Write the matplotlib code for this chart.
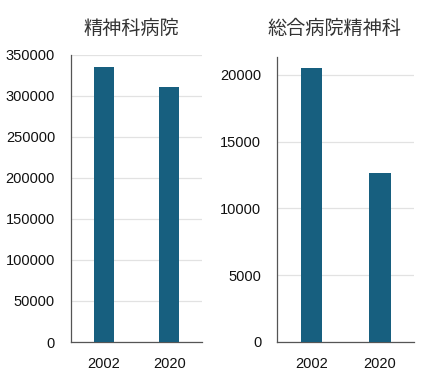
import matplotlib
matplotlib.use("Agg")
import matplotlib.pyplot as plt

years = ["2002", "2020"]
psych_hospital = [335000, 311000]
general_psych = [20550, 12670]
titles = ["精神科病院", "総合病院精神科"]

BAR = "#175f7f"
GRID = "#e2e2e2"
SPINE = "#555555"

plt.rcParams["font.family"] = ["Liberation Sans", "Noto Sans CJK JP", "DejaVu Sans"]

fig = plt.figure(figsize=(4.27, 3.80), dpi=100)
ax1 = fig.add_axes([0.1663, 0.100, 0.3068, 0.7553])
ax2 = fig.add_axes([0.6494, 0.1008, 0.3201, 0.7500])

panels = [
    (ax1, psych_hospital, (0, 350000), range(0, 350001, 50000), 0.30),
    (ax2, general_psych, (0, 21370), range(0, 20001, 5000), 0.32),
]
for ax, values, ylim, yticks, width in panels:
    ax.bar(range(len(years)), values, width=width, color=BAR, zorder=3)
    ax.set_xlim(-0.5, len(years) - 0.5)
    ax.set_ylim(*ylim)
    ax.set_yticks(list(yticks))
    ax.set_xticks(range(len(years)))
    ax.set_xticklabels(years)
    ax.yaxis.grid(True, color=GRID, linewidth=0.9, zorder=0)
    ax.set_axisbelow(True)
    for side in ("top", "right"):
        ax.spines[side].set_visible(False)
    for side in ("left", "bottom"):
        ax.spines[side].set_color(SPINE)
        ax.spines[side].set_linewidth(0.9)
    ax.tick_params(axis="both", length=0, labelsize=10.5, colors="#111111")
    ax.tick_params(axis="y", pad=11.5)
    ax.tick_params(axis="x", pad=11)

fig.text(0.307, 0.926, titles[0], ha="center", va="center", fontsize=13.8,
         color="#333333", family=["Noto Sans CJK JP", "DejaVu Sans"])
fig.text(0.782, 0.926, titles[1], ha="center", va="center", fontsize=13.8,
         color="#333333", family=["Noto Sans CJK JP", "DejaVu Sans"])

fig.savefig("out.png", dpi=100)
